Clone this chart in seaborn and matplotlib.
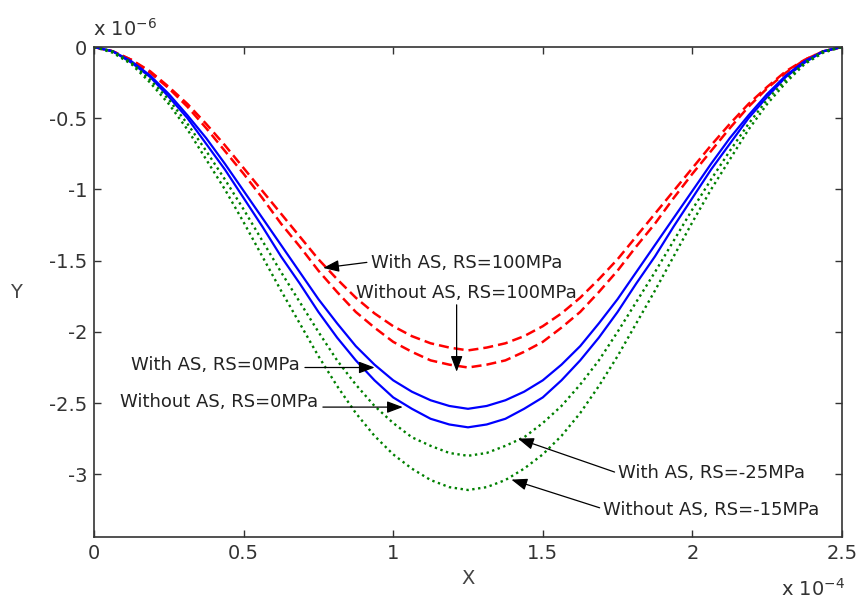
import numpy as np
import pandas as pd
import matplotlib
matplotlib.use("Agg")
import matplotlib.pyplot as plt
import seaborn as sns

# --- data (x in units of 1e-4, y in units of 1e-6) ---
x_grid = np.linspace(0, 2.5, 41)

red_with = [0, -0.03, -0.09, -0.17, -0.28, -0.40, -0.54, -0.69, -0.85, -1.01, -1.17,
            -1.33, -1.49, -1.63, -1.76, -1.87, -1.96, -2.03, -2.08, -2.11, -2.13,
            -2.11, -2.08, -2.03, -1.96, -1.87, -1.76, -1.63, -1.49, -1.33, -1.17,
            -1.01, -0.85, -0.69, -0.54, -0.40, -0.28, -0.17, -0.09, -0.03, 0]
red_without = [0, -0.03, -0.09, -0.18, -0.29, -0.42, -0.57, -0.73, -0.89, -1.06, -1.24,
               -1.40, -1.57, -1.72, -1.86, -1.97, -2.07, -2.14, -2.20, -2.23, -2.25,
               -2.23, -2.20, -2.14, -2.07, -1.97, -1.86, -1.72, -1.57, -1.40, -1.24,
               -1.06, -0.89, -0.73, -0.57, -0.42, -0.29, -0.18, -0.09, -0.03, 0]
blue_with = [0, -0.03, -0.10, -0.20, -0.33, -0.48, -0.64, -0.82, -1.01, -1.20, -1.39,
             -1.58, -1.77, -1.94, -2.10, -2.23, -2.34, -2.42, -2.48, -2.52, -2.54,
             -2.52, -2.48, -2.42, -2.34, -2.23, -2.10, -1.94, -1.77, -1.58, -1.39,
             -1.20, -1.01, -0.82, -0.64, -0.48, -0.33, -0.20, -0.10, -0.03, 0]
blue_without = [0, -0.03, -0.11, -0.21, -0.35, -0.50, -0.68, -0.86, -1.06, -1.26, -1.47,
                -1.66, -1.86, -2.04, -2.20, -2.34, -2.46, -2.54, -2.61, -2.65, -2.67,
                -2.65, -2.61, -2.54, -2.46, -2.34, -2.20, -2.04, -1.86, -1.66, -1.47,
                -1.26, -1.06, -0.86, -0.68, -0.50, -0.35, -0.21, -0.11, -0.03, 0]
green_with = [0, -0.03, -0.11, -0.23, -0.37, -0.54, -0.73, -0.93, -1.14, -1.36, -1.58,
              -1.79, -2.00, -2.20, -2.37, -2.52, -2.64, -2.74, -2.80, -2.85, -2.87,
              -2.85, -2.80, -2.74, -2.64, -2.52, -2.37, -2.20, -2.00, -1.79, -1.58,
              -1.36, -1.14, -0.93, -0.73, -0.54, -0.37, -0.23, -0.11, -0.03, 0]
green_without = [0, -0.04, -0.12, -0.25, -0.40, -0.58, -0.79, -1.00, -1.23, -1.47, -1.71,
                 -1.94, -2.17, -2.38, -2.57, -2.73, -2.86, -2.96, -3.04, -3.09, -3.11,
                 -3.09, -3.04, -2.96, -2.86, -2.73, -2.57, -2.38, -2.17, -1.94, -1.71,
                 -1.47, -1.23, -1.00, -0.79, -0.58, -0.40, -0.25, -0.12, -0.04, 0]

x_ticks = [0, 0.5, 1, 1.5, 2, 2.5]
x_tick_labels = ["0", "0.5", "1", "1.5", "2", "2.5"]
y_ticks = [0, -0.5, -1, -1.5, -2, -2.5, -3]
y_tick_labels = ["0", "-0.5", "-1", "-1.5", "-2", "-2.5", "-3"]

series = [
    ("With AS, RS=100MPa", red_with, "#ff0000", (4.0, 2.0), 1.8),
    ("Without AS, RS=100MPa", red_without, "#ff0000", (4.0, 2.0), 1.8),
    ("With AS, RS=0MPa", blue_with, "#0000ff", None, 1.6),
    ("Without AS, RS=0MPa", blue_without, "#0000ff", None, 1.6),
    ("With AS, RS=-25MPa", green_with, "#008000", (1, 1.5), 1.7),
    ("Without AS, RS=-15MPa", green_without, "#008000", (1, 1.5), 1.7),
]

sns.set_style("ticks")
plt.rcParams["font.family"] = ["DejaVu Sans"]
plt.rcParams["axes.unicode_minus"] = False
plt.rcParams["mathtext.default"] = "regular"

fig = plt.figure(figsize=(8.58, 5.99), dpi=100)
ax = fig.add_axes([0.1096, 0.1035, 0.8717, 0.818])

for name, vals, color, dash, lw in series:
    df = pd.DataFrame({"X": x_grid, "Y": vals})
    sns.lineplot(data=df, x="X", y="Y", ax=ax, color=color, lw=lw,
                 estimator=None, sort=False)
    if dash is not None:
        ax.lines[-1].set_dashes(dash)

ax.set_xlim(0, 2.5)
ax.set_ylim(-3.44, 0)
ax.set_xticks(x_ticks)
ax.set_xticklabels(x_tick_labels)
ax.set_yticks(y_ticks)
ax.set_yticklabels(y_tick_labels)
ax.tick_params(direction="in", top=True, right=True, length=5, width=1,
               labelsize=14, colors="#333333", pad=5)
for s in ax.spines.values():
    s.set_visible(True)
    s.set_color("#333333")
    s.set_linewidth(1.2)

ax.set_xlabel("X", fontsize=14, color="#444444", labelpad=4)
ax.set_ylabel("Y", fontsize=14, color="#444444", rotation=0, labelpad=24, va="center")

# MATLAB style exponent labels
fig.text(0.108, 0.952, r"x 10$^{-6}$", fontsize=14, color="#333333", ha="left", va="center")
fig.text(0.910, 0.017, r"x 10$^{-4}$", fontsize=14, color="#333333", ha="left", va="center")

# annotations
arrow = dict(arrowstyle="-|>,head_length=0.8,head_width=0.3", color="black",
             lw=0.9, mutation_scale=12, shrinkA=0, shrinkB=0)
txt = dict(fontsize=13, color="#222222", va="center")

ax.text(0.925, -1.516, "With AS, RS=100MPa", ha="left", **txt)
ax.annotate("", xy=(0.766, -1.551), xytext=(0.912, -1.512), arrowprops=arrow)

ax.text(0.877, -1.727, "Without AS, RS=100MPa", ha="left", **txt)
ax.annotate("", xy=(1.212, -2.28), xytext=(1.212, -1.81), arrowprops=arrow)

ax.text(0.688, -2.232, "With AS, RS=0MPa", ha="right", **txt)
ax.annotate("", xy=(0.938, -2.25), xytext=(0.705, -2.25), arrowprops=arrow)

ax.text(0.748, -2.491, "Without AS, RS=0MPa", ha="right", **txt)
ax.annotate("", xy=(1.032, -2.528), xytext=(0.765, -2.528), arrowprops=arrow)

ax.text(1.75, -2.99, "With AS, RS=-25MPa", ha="left", **txt)
ax.annotate("", xy=(1.417, -2.749), xytext=(1.74, -2.984), arrowprops=arrow)

ax.text(1.70, -3.249, "Without AS, RS=-15MPa", ha="left", **txt)
ax.annotate("", xy=(1.395, -3.037), xytext=(1.69, -3.235), arrowprops=arrow)

fig.savefig("out.png", dpi=100, facecolor="white")
